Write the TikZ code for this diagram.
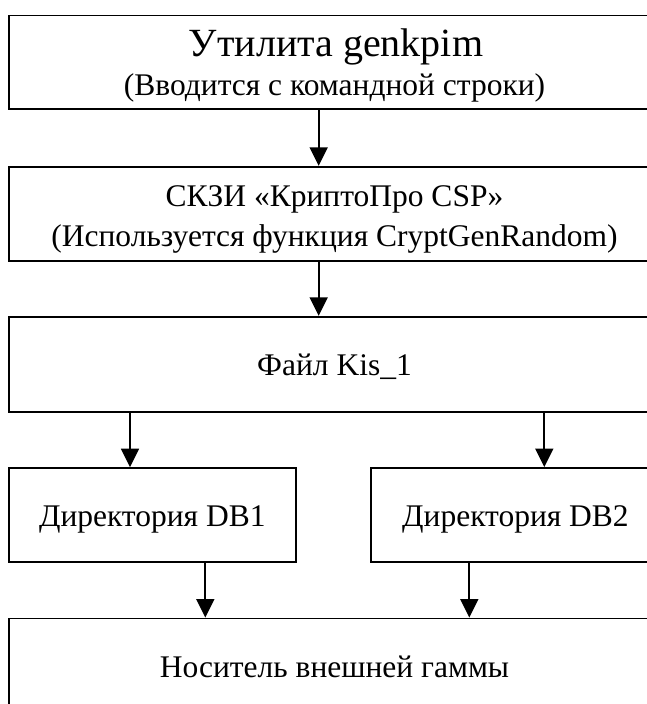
\documentclass[tikz,border=0pt]{standalone}
\usepackage{fontspec}
\setmainfont{Liberation Serif}
\usetikzlibrary{arrows.meta}
\begin{document}
\begin{tikzpicture}[x=1pt,y=-1pt,
  box/.style={draw, line width=1.8pt, inner sep=0pt},
  wide/.style={box, minimum width=651.4pt, minimum height=94pt},
  half/.style={box, minimum width=286.7pt, minimum height=94pt},
  txt/.style={inner sep=0pt, anchor=base, font=\fontsize{31.5}{36}\selectfont},
  big/.style={txt, font=\fontsize{40}{44}\selectfont},
  arr/.style={line width=1.8pt, -{Triangle[width=18pt,length=18.5pt]}}]
\useasboundingbox (0,0) rectangle (647,704);
\clip (0,0) rectangle (647,704);
\fill[white] (0,0) rectangle (647,704);
% boxes
\node[wide, minimum height=93.5pt] (b1) at (335,62.3) {};
\node[wide] (b2) at (335,213.7) {};
\node[wide, minimum height=95pt] (b3) at (335,364.2) {};
\node[half] (d1) at (152.65,515) {};
\node[half] (d2) at (514.5,515) {};
\node[wide] (b5) at (335,665.5) {};
% texts
\node[big] (t1a) at (336,56) {Утилита genkpim};
\node[txt] (t1b) at (334.5,95.3) {(Вводится с командной строки)};
\node[txt] (t2a) at (334.5,206.5) {СКЗИ «КриптоПро CSP»};
\node[txt] (t2b) at (334.5,246) {(Используется функция CryptGenRandom)};
\node[txt] (t3) at (334.5,375) {Файл Kis\_1};
\node[txt] (t4) at (152.3,526) {Директория DB1};
\node[txt] (t5) at (515.5,526) {Директория DB2};
\node[txt] (t6) at (334.5,677) {Носитель внешней гаммы};
% connectors
\coordinate (x1) at (318.7,0);
\coordinate (x2) at (130,0);
\coordinate (x3) at (544.3,0);
\coordinate (x4) at (205.3,0);
\coordinate (x5) at (469.3,0);
\draw[arr] (b1.south -| x1) -- (b2.north -| x1);
\draw[arr] (b2.south -| x1) -- (b3.north -| x1);
\draw[arr] (b3.south -| x2) -- (d1.north -| x2);
\draw[arr] (b3.south -| x3) -- (d2.north -| x3);
\draw[arr] (d1.south -| x4) -- (b5.north -| x4);
\draw[arr] (d2.south -| x5) -- (b5.north -| x5);
\end{tikzpicture}
\end{document}
